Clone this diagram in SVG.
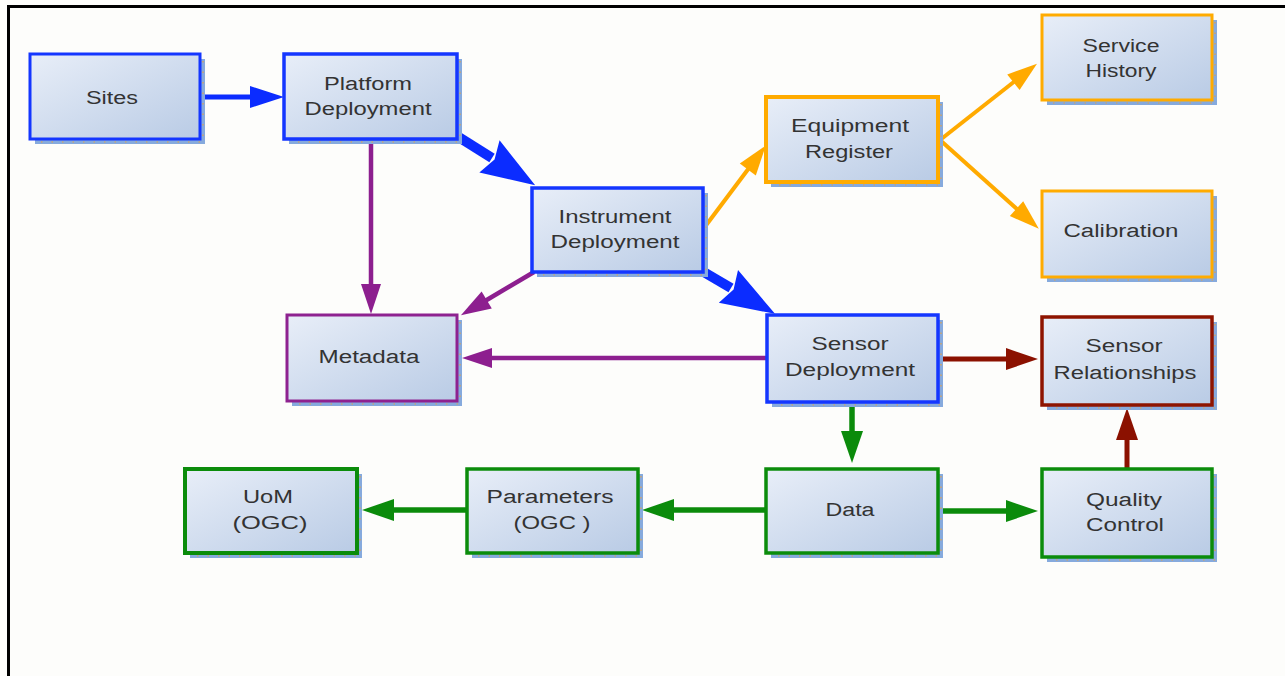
<svg xmlns="http://www.w3.org/2000/svg" width="1285" height="676" viewBox="0 0 1285 676">
  <style>
    .bg { fill: #fdfdfb; }
    .frame { fill: none; stroke: #000; stroke-width: 3; }
    .shadow { fill: #86aadd; }
    .shdots { fill: none; stroke: #e2a24a; stroke-width: 1.2; stroke-dasharray: 1.5 9; }
    .box { fill: url(#boxFill); }
    .b-blue { stroke: #1436ff; }
    .b-orange { stroke: #ffab00; }
    .b-purple { stroke: #8e2290; }
    .b-red { stroke: #8e1400; }
    .b-green { stroke: #0b8c0b; }
    .lbl { font-family: "Liberation Sans", Arial, sans-serif; font-size: 18px; fill: #333; text-anchor: middle; }
    .c { fill: none; stroke-linecap: butt; stroke-linejoin: miter; }
    .c-blue { stroke: #0b2cff; stroke-width: 5; }
    .c-bluethick { stroke: #0b2cff; stroke-width: 10; }
    .c-orange { stroke: #ffaa00; stroke-width: 4; }
    .c-purple { stroke: #8d1f8f; stroke-width: 4.5; }
    .c-red { stroke: #8b1100; stroke-width: 5; }
    .c-green { stroke: #0b8b0b; stroke-width: 5.5; }
  </style>
  <defs>
    <linearGradient id="boxFill" x1="0" y1="0" x2="1" y2="1">
      <stop offset="0" stop-color="#e8eef8"/>
      <stop offset="1" stop-color="#b9cbe5"/>
    </linearGradient>
    <!-- arrowheads: base sits on the path end, tip points forward -->
    <marker id="ahBlue" markerUnits="userSpaceOnUse" markerWidth="34" markerHeight="22" refX="2" refY="11" orient="auto" overflow="visible">
      <path d="M0,0 L34,11 L0,22 z" fill="#0b2cff"/>
    </marker>
    <marker id="ahBlueThick" markerUnits="userSpaceOnUse" markerWidth="54" markerHeight="38" refX="3" refY="19" orient="auto" overflow="visible">
      <path d="M0,0 L54,19 L0,38 L6,19 z" fill="#0b2cff"/>
    </marker>
    <marker id="ahOrange" markerUnits="userSpaceOnUse" markerWidth="30" markerHeight="20" refX="2" refY="10" orient="auto" overflow="visible">
      <path d="M0,0 L30,10 L0,20 z" fill="#ffaa00"/>
    </marker>
    <marker id="ahPurple" markerUnits="userSpaceOnUse" markerWidth="30" markerHeight="20" refX="2" refY="10" orient="auto" overflow="visible">
      <path d="M0,0 L30,10 L0,20 z" fill="#8d1f8f"/>
    </marker>
    <marker id="ahRed" markerUnits="userSpaceOnUse" markerWidth="32" markerHeight="22" refX="2" refY="11" orient="auto" overflow="visible">
      <path d="M0,0 L32,11 L0,22 z" fill="#8b1100"/>
    </marker>
    <marker id="ahGreen" markerUnits="userSpaceOnUse" markerWidth="32" markerHeight="22" refX="2" refY="11" orient="auto" overflow="visible">
      <path d="M0,0 L32,11 L0,22 z" fill="#0b8b0b"/>
    </marker>
  </defs>

  <rect class="bg" x="0" y="0" width="1285" height="676"/>
  <path class="frame" d="M8.5,676 V6.5 H1285"/>

  <!-- connectors -->
  <g id="connectors">
    <path class="c c-blue" d="M200,97 H252" marker-end="url(#ahBlue)"/>
    <path class="c c-bluethick" d="M457,136 L492,158" marker-end="url(#ahBlueThick)"/>
    <path class="c c-bluethick" d="M702,271 L731,288" marker-end="url(#ahBlueThick)"/>
    <path class="c c-orange" d="M704,228 L749,168" marker-end="url(#ahOrange)"/>
    <path class="c c-orange" d="M940,140 L1015,81" marker-end="url(#ahOrange)"/>
    <path class="c c-orange" d="M940,140 L1018,210" marker-end="url(#ahOrange)"/>
    <path class="c c-purple" d="M371,139 V286" marker-end="url(#ahPurple)"/>
    <path class="c c-purple" d="M534,272 L485,301" marker-end="url(#ahPurple)"/>
    <path class="c c-purple" d="M767,358 H490" marker-end="url(#ahPurple)"/>
    <path class="c c-red" d="M938,359 H1008" marker-end="url(#ahRed)"/>
    <path class="c c-red" d="M1127,469 V438" marker-end="url(#ahRed)"/>
    <path class="c c-green" d="M852,402 V433" marker-end="url(#ahGreen)"/>
    <path class="c c-green" d="M938,511 H1008" marker-end="url(#ahGreen)"/>
    <path class="c c-green" d="M766,510 H672" marker-end="url(#ahGreen)"/>
    <path class="c c-green" d="M467,510 H392" marker-end="url(#ahGreen)"/>
  </g>

  <!-- nodes -->
  <g id="sites">
    <rect class="shadow" x="35" y="59" width="170" height="85"/>
    <path class="shdots" d="M203,61 V142 H37"/>
    <rect class="box b-blue" x="30" y="54" width="170" height="85" stroke-width="3"/>
    <text class="lbl" x="112" y="104" textLength="52" lengthAdjust="spacingAndGlyphs">Sites</text>
  </g>

  <g id="platform-deployment">
    <rect class="shadow" x="289" y="59" width="173" height="85"/>
    <path class="shdots" d="M460,61 V142 H291"/>
    <rect class="box b-blue" x="284" y="54" width="173" height="85" stroke-width="3.5"/>
    <text class="lbl" x="368" y="90" textLength="88" lengthAdjust="spacingAndGlyphs">Platform</text>
    <text class="lbl" x="368" y="115" textLength="127" lengthAdjust="spacingAndGlyphs">Deployment</text>
  </g>

  <g id="instrument-deployment">
    <rect class="shadow" x="537" y="193" width="171" height="84"/>
    <path class="shdots" d="M706,195 V275 H539"/>
    <rect class="box b-blue" x="532" y="188" width="171" height="84" stroke-width="3.5"/>
    <text class="lbl" x="615" y="223" textLength="113" lengthAdjust="spacingAndGlyphs">Instrument</text>
    <text class="lbl" x="615" y="248" textLength="129" lengthAdjust="spacingAndGlyphs">Deployment</text>
  </g>

  <g id="equipment-register">
    <rect class="shadow" x="771" y="102" width="172" height="85"/>
    <path class="shdots" d="M941,104 V185 H773"/>
    <rect class="box b-orange" x="766" y="97" width="172" height="85" stroke-width="4"/>
    <text class="lbl" x="850" y="132" textLength="118" lengthAdjust="spacingAndGlyphs">Equipment</text>
    <text class="lbl" x="849" y="158" textLength="88" lengthAdjust="spacingAndGlyphs">Register</text>
  </g>

  <g id="service-history">
    <rect class="shadow" x="1047" y="20" width="170" height="85"/>
    <path class="shdots" d="M1215,22 V103 H1049"/>
    <rect class="box b-orange" x="1042" y="15" width="170" height="85" stroke-width="3"/>
    <text class="lbl" x="1121" y="52" textLength="77" lengthAdjust="spacingAndGlyphs">Service</text>
    <text class="lbl" x="1121" y="77" textLength="71" lengthAdjust="spacingAndGlyphs">History</text>
  </g>

  <g id="calibration">
    <rect class="shadow" x="1047" y="196" width="170" height="86"/>
    <path class="shdots" d="M1215,198 V280 H1049"/>
    <rect class="box b-orange" x="1042" y="191" width="170" height="86" stroke-width="3"/>
    <text class="lbl" x="1121" y="237" textLength="115" lengthAdjust="spacingAndGlyphs">Calibration</text>
  </g>

  <g id="metadata">
    <rect class="shadow" x="292" y="320" width="170" height="86"/>
    <path class="shdots" d="M460,322 V404 H294"/>
    <rect class="box b-purple" x="287" y="315" width="170" height="86" stroke-width="3"/>
    <text class="lbl" x="369" y="363" textLength="101" lengthAdjust="spacingAndGlyphs">Metadata</text>
  </g>

  <g id="sensor-deployment">
    <rect class="shadow" x="772" y="320" width="171" height="87"/>
    <path class="shdots" d="M941,322 V405 H774"/>
    <rect class="box b-blue" x="767" y="315" width="171" height="87" stroke-width="3.5"/>
    <text class="lbl" x="850" y="350" textLength="77" lengthAdjust="spacingAndGlyphs">Sensor</text>
    <text class="lbl" x="850" y="376" textLength="130" lengthAdjust="spacingAndGlyphs">Deployment</text>
  </g>

  <g id="sensor-relationships">
    <rect class="shadow" x="1047" y="322" width="170" height="88"/>
    <path class="shdots" d="M1215,324 V408 H1049"/>
    <rect class="box b-red" x="1042" y="317" width="170" height="88" stroke-width="3.5"/>
    <text class="lbl" x="1124" y="352" textLength="77" lengthAdjust="spacingAndGlyphs">Sensor</text>
    <text class="lbl" x="1125" y="379" textLength="143" lengthAdjust="spacingAndGlyphs">Relationships</text>
  </g>

  <g id="quality-control">
    <rect class="shadow" x="1047" y="474" width="170" height="88"/>
    <path class="shdots" d="M1215,476 V560 H1049"/>
    <rect class="box b-green" x="1042" y="469" width="170" height="88" stroke-width="3.5"/>
    <text class="lbl" x="1124" y="506" textLength="76" lengthAdjust="spacingAndGlyphs">Quality</text>
    <text class="lbl" x="1125" y="531" textLength="78" lengthAdjust="spacingAndGlyphs">Control</text>
  </g>

  <g id="data">
    <rect class="shadow" x="771" y="474" width="172" height="84"/>
    <path class="shdots" d="M941,476 V556 H773"/>
    <rect class="box b-green" x="766" y="469" width="172" height="84" stroke-width="3.5"/>
    <text class="lbl" x="850" y="516" textLength="49" lengthAdjust="spacingAndGlyphs">Data</text>
  </g>

  <g id="parameters">
    <rect class="shadow" x="472" y="474" width="171" height="84"/>
    <path class="shdots" d="M641,476 V556 H474"/>
    <rect class="box b-green" x="467" y="469" width="171" height="84" stroke-width="3.5"/>
    <text class="lbl" x="550" y="503" textLength="127" lengthAdjust="spacingAndGlyphs">Parameters</text>
    <text class="lbl" x="552" y="529" textLength="77" lengthAdjust="spacingAndGlyphs">(OGC )</text>
  </g>

  <g id="uom">
    <rect class="shadow" x="190" y="474" width="172" height="84"/>
    <path class="shdots" d="M360,476 V556 H192"/>
    <rect class="box b-green" x="185" y="469" width="172" height="84" stroke-width="4"/>
    <text class="lbl" x="268" y="503" textLength="50" lengthAdjust="spacingAndGlyphs">UoM</text>
    <text class="lbl" x="270" y="529" textLength="75" lengthAdjust="spacingAndGlyphs">(OGC)</text>
  </g>
</svg>
